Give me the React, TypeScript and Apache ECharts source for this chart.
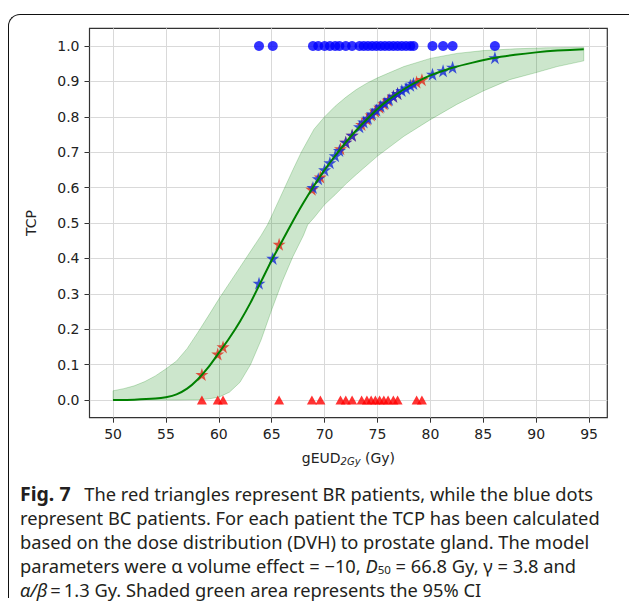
import React, { useEffect, useRef } from 'react';
import * as echarts from 'echarts';

// Tick labels
const xTicks = [50, 55, 60, 65, 70, 75, 80, 85, 90, 95];
const yTicks = [0, 0.1, 0.2, 0.3, 0.4, 0.5, 0.6, 0.7, 0.8, 0.9, 1.0];

// Fitted TCP curve
const curveX = [50, 52, 54, 55, 56, 57, 58, 59, 60, 61, 62, 63, 64, 65, 66, 67, 68, 69, 70, 71, 72, 73, 74, 75, 76, 77, 78, 79, 80, 81, 82, 84, 86, 88, 90, 92, 94.5];
const curveY = [0, 0.001, 0.004, 0.008, 0.016, 0.032, 0.058, 0.092, 0.133, 0.175, 0.222, 0.275, 0.335, 0.395, 0.45, 0.505, 0.557, 0.605, 0.65, 0.69, 0.728, 0.762, 0.793, 0.822, 0.847, 0.868, 0.887, 0.903, 0.917, 0.928, 0.938, 0.953, 0.966, 0.975, 0.982, 0.987, 0.991];

// 95% CI band
const upperX = [50, 51, 52, 53, 54, 55, 56, 57, 58, 59, 60, 61, 62, 63, 64, 64.6, 65, 66, 67, 67.8, 69, 70, 71, 72, 73, 74, 75, 76, 77.5, 80, 82.5, 85, 88, 91, 94.5];
const upperY = [0.026, 0.032, 0.04, 0.052, 0.068, 0.088, 0.11, 0.145, 0.19, 0.237, 0.285, 0.33, 0.375, 0.42, 0.465, 0.495, 0.52, 0.585, 0.65, 0.7, 0.765, 0.8, 0.83, 0.855, 0.877, 0.895, 0.91, 0.923, 0.942, 0.965, 0.979, 0.987, 0.992, 0.995, 0.996];
const lowerX = [50, 56, 58, 59, 60, 61, 62, 63, 64, 65, 66, 67, 68, 68.4, 69, 70, 71, 72, 73, 75, 77.5, 80, 82.5, 85, 87.5, 90, 92, 94.5];
const lowerY = [0, 0, 0.001, 0.003, 0.008, 0.022, 0.05, 0.1, 0.17, 0.255, 0.335, 0.405, 0.465, 0.495, 0.515, 0.552, 0.58, 0.61, 0.637, 0.689, 0.745, 0.792, 0.835, 0.873, 0.905, 0.925, 0.942, 0.958];

// BR patients (red)
const brDose = [58.4, 59.9, 60.4, 65.7, 68.8, 69.6, 71.5, 72.0, 72.6, 73.5, 74.0, 74.4, 74.8, 75.2, 75.6, 76.0, 76.5, 76.9, 78.7, 79.2];
const brTcp = [0.072, 0.13, 0.15, 0.44, 0.595, 0.63, 0.71, 0.728, 0.748, 0.778, 0.793, 0.805, 0.816, 0.827, 0.837, 0.847, 0.858, 0.866, 0.898, 0.905];
const brOutcome = 0;

// BC patients (blue)
const bcDose = [63.8, 65.1, 68.9, 69.4, 70.0, 70.5, 71.0, 71.4, 72.0, 72.6, 73.3, 73.7, 74.1, 74.5, 74.9, 75.3, 75.7, 76.1, 76.5, 76.9, 77.3, 77.7, 78.1, 78.4, 80.2, 81.2, 82.1, 86.1];
const bcTcp = [0.33, 0.4, 0.6, 0.625, 0.65, 0.67, 0.69, 0.705, 0.728, 0.748, 0.772, 0.785, 0.796, 0.808, 0.819, 0.83, 0.839, 0.849, 0.858, 0.866, 0.874, 0.881, 0.889, 0.894, 0.92, 0.93, 0.94, 0.967];
const bcOutcome = 1;

const STAR = 'path://M0,-1L0.2245,-0.309L0.951,-0.309L0.363,0.118L0.588,0.809L0,0.382L-0.588,0.809L-0.363,0.118L-0.951,-0.309L-0.2245,-0.309Z';

const capFont = 'Noto Sans';
const capSize = 18.3;
const capColor = '#231f20';
const capLH = 20;
const capRich = {
  n: { fontFamily: capFont, fontSize: capSize, fontWeight: 'normal', color: capColor, lineHeight: capLH },
  b: { fontFamily: capFont, fontSize: 19.5, fontWeight: 'bold', color: capColor, lineHeight: capLH, padding: [0, 9, 0, 0] },
  i: { fontFamily: capFont, fontSize: capSize, fontWeight: 'normal', fontStyle: 'italic', color: capColor, lineHeight: capLH },
  sub: { fontFamily: capFont, fontSize: 11.5, fontWeight: 'normal', color: capColor, lineHeight: 15, verticalAlign: 'bottom' },
};
const captionLines = [
  '{b|Fig. 7}{n| The red triangles represent BR patients, while the blue dots}',
  '{n|represent BC patients. For each patient the TCP has been calculated}',
  '{n|based on the dose distribution (DVH) to prostate gland. The model}',
  '{n|parameters were α volume effect = \u221210, }{i|D}{sub|50}{n| = 66.8 Gy, γ = 3.8 and}',
  '{i|α/β}{n|\u2009=\u20091.3 Gy. Shaded green area represents the 95% CI}',
];

export default function App() {
  const ref = useRef<HTMLDivElement>(null);
  useEffect(() => {
    const chart = echarts.init(ref.current!, null, { renderer: 'svg' });
    const axisFont = { fontFamily: 'DejaVu Sans', fontSize: 14, color: '#222' };
    chart.setOption({
      animation: false,
      title: captionLines.map((t, k) => ({
        text: t,
        left: 20,
        top: 483 + k * 24,
        padding: 0,
        textStyle: { fontWeight: 'normal', rich: capRich },
      })),
      grid: {
        left: 89.5,
        right: 21.7,
        top: 28.3,
        bottom: 193.3,
        show: true,
        borderColor: '#333',
        borderWidth: 1.2,
        backgroundColor: 'transparent',
      },
      xAxis: {
        type: 'value',
        min: 47.775,
        max: 96.725,
        axisLine: { show: false, onZero: false },
        axisTick: { show: true, inside: false, length: 5, customValues: xTicks, lineStyle: { color: '#333', width: 1 } },
        axisLabel: { ...axisFont, margin: 9, customValues: xTicks, formatter: (v: number) => String(v) },
        splitLine: { show: true, lineStyle: { color: '#d9d9d9', width: 1 } },
        name: '{a|gEUD}{s|2Gy}{a| (Gy)}',
        nameLocation: 'middle',
        nameGap: 31,
        nameTextStyle: {
          rich: {
            a: { fontFamily: 'DejaVu Sans', fontSize: 14, color: '#222', lineHeight: 18 },
            s: { fontFamily: 'DejaVu Sans', fontSize: 10, fontStyle: 'italic', color: '#222', lineHeight: 14, verticalAlign: 'bottom' },
          },
        },
      },
      yAxis: {
        type: 'value',
        min: -0.05,
        max: 1.05,
        axisLine: { show: false, onZero: false },
        axisTick: { show: true, inside: false, length: 5, customValues: yTicks, lineStyle: { color: '#333', width: 1 } },
        axisLabel: { ...axisFont, margin: 10, customValues: yTicks, formatter: (v: number) => v.toFixed(1) },
        splitLine: { show: true, lineStyle: { color: '#d9d9d9', width: 1 } },
        name: 'TCP',
        nameLocation: 'middle',
        nameGap: 52,
        nameTextStyle: { fontFamily: 'DejaVu Sans', fontSize: 14, color: '#222' },
      },
      series: [
        {
          type: 'custom',
          data: [[50, 0]],
          silent: true,
          renderItem: (_p: any, api: any) => {
            const pts: number[][] = [];
            for (let i = 0; i < upperX.length; i++) pts.push(api.coord([upperX[i], upperY[i]]));
            for (let i = lowerX.length - 1; i >= 0; i--) pts.push(api.coord([lowerX[i], lowerY[i]]));
            return {
              type: 'polygon',
              shape: { points: pts },
              style: { fill: 'rgba(0,128,0,0.2)', stroke: 'rgba(0,128,0,0.22)', lineWidth: 1 },
            };
          },
        },
        {
          type: 'scatter',
          symbol: STAR,
          symbolSize: 13,
          data: brDose.map((d, i) => [d, brTcp[i]]),
          itemStyle: { color: '#e02a1a' },
        },
        {
          type: 'scatter',
          symbol: STAR,
          symbolSize: 13,
          data: bcDose.map((d, i) => [d, bcTcp[i]]),
          itemStyle: { color: '#1428d8' },
        },
        {
          type: 'line',
          data: curveX.map((d, i) => [d, curveY[i]]),
          showSymbol: false,
          smooth: 0.2,
          lineStyle: { color: '#008000', width: 2 },
        },
        {
          type: 'scatter',
          symbol: 'triangle',
          symbolSize: [10, 9],
          data: brDose.map((d) => [d, brOutcome]),
          itemStyle: { color: '#ff0000' },
        },
        {
          type: 'scatter',
          symbol: 'circle',
          symbolSize: 10,
          data: bcDose.map((d) => [d, bcOutcome]),
          itemStyle: { color: '#0000ff' },
        },
      ],
    });
    return () => chart.dispose();
  }, []);
  return (
    <div style={{ position: 'fixed', left: 0, top: 0, width: 629, height: 611, background: '#fff', overflow: 'hidden' }}>
      <div
        style={{
          position: 'absolute',
          left: 8,
          top: 14,
          width: 640,
          height: 584,
          borderTop: '1.5px solid #111',
          borderLeft: '1.5px solid #111',
          borderTopLeftRadius: 12,
          boxSizing: 'border-box',
        }}
      />
      <div ref={ref} style={{ position: 'absolute', left: 0, top: 0, width: 629, height: 611 }} />
    </div>
  );
}
